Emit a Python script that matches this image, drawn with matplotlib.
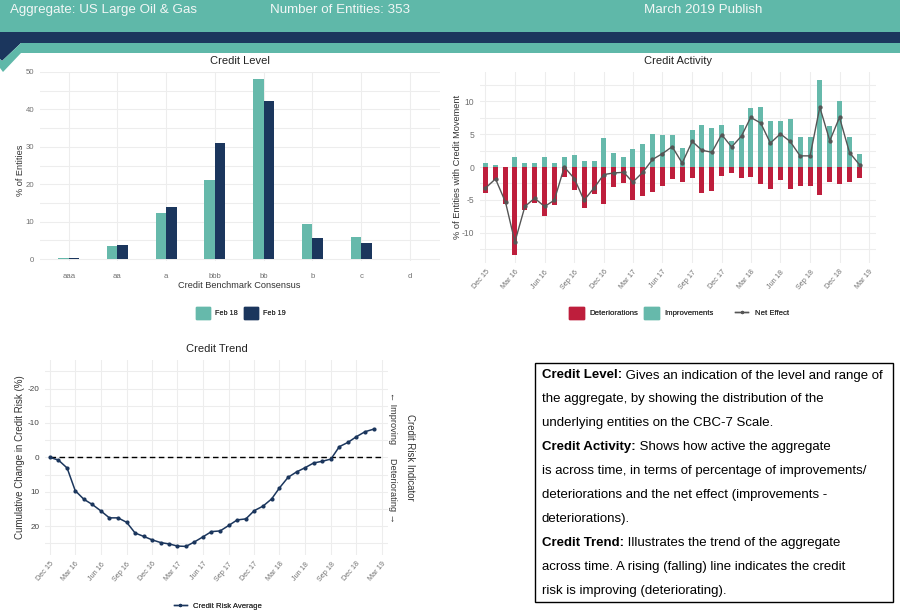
import datetime as dt
import matplotlib
matplotlib.use('Agg')
import matplotlib.pyplot as plt
import matplotlib.dates as mdates
from matplotlib.patches import Polygon, Rectangle, Patch
from matplotlib.lines import Line2D

plt.rcParams['font.family'] = ['Liberation Sans', 'DejaVu Sans']
plt.rcParams['axes.unicode_minus'] = False

TEAL = '#66B9AB'
NAVY = '#1B365D'
RED = '#BE1E3C'
GRID = '#EDEDED'
TICK = '#707070'
W, H = 900, 613

# credit level
categories = ['aaa', 'aa', 'a', 'bbb', 'bb', 'b', 'c', 'd']
feb18 = [0.3, 3.6, 12.4, 21.2, 48.0, 9.5, 6.0, 0.1]
feb19 = [0.3, 3.9, 14.0, 30.9, 42.3, 5.7, 4.2, 0.1]

# credit activity, monthly Dec 15 - Feb 19
improvements = [0.65, 0.3, 0.0, 1.5, 0.65, 0.65, 1.5, 0.65, 1.5, 1.85, 0.95, 0.95, 4.4,
                2.15, 1.5, 2.8, 3.5, 5.05, 4.9, 4.9, 2.9, 5.65, 6.4, 6.0, 6.4, 4.0, 6.4,
                9.0, 9.2, 7.0, 7.0, 7.35, 4.6, 4.6, 13.3, 6.3, 10.1, 4.6, 2.0]
deteriorations = [-4.0, -2.0, -5.65, -13.4, -6.6, -5.5, -7.5, -5.8, -1.5, -3.5, -6.3, -4.1, -5.65,
                  -3.05, -2.45, -5.05, -4.45, -3.8, -2.9, -1.85, -2.3, -1.7, -4.0, -3.7, -1.4, -0.9, -1.7,
                  -1.5, -2.6, -3.4, -2.0, -3.4, -2.9, -2.9, -4.3, -2.3, -2.6, -2.3, -1.7]
net_effect = [-3.2, -1.8, -5.35, -11.4, -6.0, -4.75, -6.0, -5.05, 0.0, -1.75, -5.05, -3.2, -1.15,
              -0.9, -0.8, -2.3, -0.8, 1.15, 2.05, 3.1, 0.6, 3.9, 2.55, 2.25, 4.95, 3.05, 4.75,
              7.55, 6.7, 3.65, 5.05, 3.9, 1.7, 1.7, 9.1, 4.0, 7.55, 2.2, 0.35]

# credit trend, same months
risk_average = [0.0, 0.8, 3.1, 9.7, 12.2, 13.7, 15.6, 17.6, 17.6, 18.9, 22.0, 23.0, 24.0,
                24.8, 25.2, 25.8, 25.9, 24.6, 23.1, 21.6, 21.4, 19.8, 18.2, 17.9, 15.5, 14.2, 12.1,
                8.9, 5.8, 4.25, 3.0, 1.65, 1.15, 0.5, -3.1, -4.35, -6.0, -7.45, -8.2]

months = [dt.date(2015 + (11 + i) // 12, (11 + i) % 12 + 1, 1) for i in range(39)]
quarter_ticks = [dt.date(2015 + (11 + i) // 12, (11 + i) % 12 + 1, 1) for i in range(0, 40, 3)]

note_lines = [
    ('Credit Level:', ' Gives an indication of the level and range of'),
    ('', 'the aggregate, by showing the distribution of the'),
    ('', 'underlying entities on the CBC-7 Scale.'),
    ('Credit Activity:', ' Shows how active the aggregate'),
    ('', 'is across time, in terms of percentage of improvements/'),
    ('', 'deteriorations and the net effect (improvements -'),
    ('', 'deteriorations).'),
    ('Credit Trend:', ' Illustrates the trend of the aggregate'),
    ('', 'across time. A rising (falling) line indicates the credit'),
    ('', 'risk is improving (deteriorating).'),
]


def fx(x):
    return x / W


def fy(y):
    return 1 - y / H


def px_axes(fig, left, top, right, bottom):
    ax = fig.add_axes([fx(left), fy(bottom), (right - left) / W, (bottom - top) / H])
    for s in ax.spines.values():
        s.set_visible(False)
    ax.set_axisbelow(True)
    ax.grid(True, which='major', color=GRID, lw=0.8)
    ax.grid(True, which='minor', axis='y', color=GRID, lw=0.8)
    ax.tick_params(which='both', length=0)
    return ax


def date_axis(ax):
    ax.set_xlim(dt.date(2015, 11, 14), dt.date(2019, 3, 24))
    ax.set_xticks(quarter_ticks)
    ax.xaxis.set_major_formatter(mdates.DateFormatter('%b %y'))
    for lab in ax.get_xticklabels():
        lab.set_rotation(50)
        lab.set_ha('right')
        lab.set_rotation_mode('anchor')
        lab.set_fontsize(5.2)
        lab.set_color(TICK)


def bar_legend(handles, x, y, size=5.2):
    fig.add_artist(fig.legend(handles=handles, loc='center', bbox_to_anchor=(fx(x), fy(y)), ncol=len(handles),
                              frameon=False, fontsize=size, handlelength=14.5 / (size * 100 / 72),
                              handleheight=14.5 / (size * 100 / 72), handletextpad=0.7, columnspacing=0.8,
                              labelcolor='#333333'))


def line_legend(handle, x, y):
    fig.add_artist(fig.legend(handles=[handle], loc='center', bbox_to_anchor=(fx(x), fy(y)), frameon=False,
                              fontsize=5.6, handlelength=1.7, handletextpad=0.8, labelcolor='#333333'))


fig = plt.figure(figsize=(W / 100, H / 100), dpi=100)

# header bands
fig.patches.append(Rectangle((0, fy(32)), 1, 32 / H, transform=fig.transFigure, fc='#5FB8A9', ec='none'))
navy_band = [(0, 32), (900, 32), (900, 43), (21, 43), (2, 61), (0, 59)]
teal_band = [(900, 43), (21, 43), (2, 61), (0, 59), (0, 68), (3, 72), (21, 53), (900, 53)]
fig.patches.append(Polygon([(fx(a), fy(b)) for a, b in navy_band], transform=fig.transFigure, fc=NAVY, ec='none'))
fig.patches.append(Polygon([(fx(a), fy(b)) for a, b in teal_band], transform=fig.transFigure, fc='#5FB8A9', ec='none'))
for txt, xpos in [('Aggregate: US Large Oil & Gas', 10), ('Number of Entities: 353', 270), ('March 2019 Publish', 644)]:
    fig.text(fx(xpos), fy(13), txt, color='#F2F7F6', fontsize=9.6, va='baseline', ha='left')

# credit level
ax1 = px_axes(fig, 40, 72, 440, 261)
xs = range(len(categories))
ax1.bar([i - 0.108 for i in xs], feb18, width=0.215, color=TEAL)
ax1.bar([i + 0.108 for i in xs], feb19, width=0.215, color=NAVY)
ax1.set_xlim(-0.59, 7.62)
ax1.set_ylim(-0.5, 50)
ax1.set_xticks(list(xs))
ax1.set_xticklabels(categories)
ax1.set_yticks([0, 10, 20, 30, 40, 50])
ax1.set_yticks([5, 15, 25, 35, 45], minor=True)
ax1.tick_params(axis='both', labelsize=5.6, labelcolor=TICK, pad=4)
ax1.tick_params(axis='x', pad=9)
ax1.set_title('Credit Level', fontsize=8, color='#222222', pad=6)
ax1.set_xlabel('Credit Benchmark Consensus', fontsize=6.6, color='#333333')
ax1.set_ylabel('% of Entities', fontsize=6.6, color='#333333')
ax1.xaxis.set_label_coords(fx(239), fy(281.5), transform=fig.transFigure)
ax1.yaxis.set_label_coords(fx(25), fy(170), transform=fig.transFigure)
bar_legend([Patch(color=TEAL, label='Feb 18'), Patch(color=NAVY, label='Feb 19')], 241, 313)

# credit activity
ax2 = px_axes(fig, 480, 72, 876, 263)
ax2.bar(months, deteriorations, width=15.5, color=RED)
ax2.bar(months, improvements, width=15.5, color=TEAL)
ax2.plot(months, net_effect, color='#555555', lw=1.0, marker='o', ms=3.1, mew=0)
date_axis(ax2)
ax2.set_ylim(-14.6, 14.46)
ax2.set_yticks([-10, -5, 0, 5, 10])
ax2.set_yticks([-12.5, -7.5, -2.5, 2.5, 7.5, 12.5], minor=True)
ax2.tick_params(axis='y', labelsize=6.2, labelcolor=TICK, pad=4)
ax2.tick_params(axis='x', pad=4)
ax2.set_title('Credit Activity', fontsize=8, color='#222222', pad=6)
ax2.set_ylabel('% of Entities with Credit Movement', fontsize=6.7, color='#333333')
ax2.yaxis.set_label_coords(fx(462), fy(167), transform=fig.transFigure)
bar_legend([Patch(color=RED, label='Deteriorations'), Patch(color=TEAL, label='Improvements')], 641.5, 313, size=5.6)
line_legend(Line2D([], [], color='#555555', lw=1.0, marker='o', ms=2.4, mew=0, label='Net Effect'), 762, 313)

# credit trend
ax3 = px_axes(fig, 45, 360, 388, 555)
ax3.plot(months, risk_average, color=NAVY, lw=1.1, marker='o', ms=3.0, mew=0, zorder=3)
ax3.plot([quarter_ticks[0], quarter_ticks[-1]], [0, 0], color='black', lw=1.0, ls=(0, (4, 2.5)), zorder=2)
date_axis(ax3)
ax3.set_ylim(28.4, -28.3)
ax3.set_yticks([-20, -10, 0, 10, 20])
ax3.set_yticks([-25, -15, -5, 5, 15, 25], minor=True)
ax3.tick_params(axis='y', labelsize=5.9, labelcolor='#444444', pad=4)
ax3.tick_params(axis='x', pad=4)
ax3.set_title('Credit Trend', fontsize=8, color='#222222', pad=6)
ax3.set_ylabel('Cumulative Change in Credit Risk (%)', fontsize=7.0, color='#333333')
ax3.yaxis.set_label_coords(fx(25), fy(457), transform=fig.transFigure)
fig.text(fx(393), fy(418), '\u2190 Improving', rotation=-90, fontsize=6.6, color='#333333', ha='center', va='center')
fig.text(fx(393), fy(490), 'Deteriorating \u2192', rotation=-90, fontsize=6.6, color='#333333', ha='center', va='center')
fig.text(fx(410), fy(457), 'Credit Risk Indicator', rotation=-90, fontsize=6.9, color='#333333', ha='center', va='center')
line_legend(Line2D([], [], color=NAVY, lw=1.0, marker='o', ms=2.4, mew=0, label='Credit Risk Average'), 218, 606)

# notes box
fig.patches.append(Rectangle((fx(535), fy(602)), 358 / W, 239 / H, transform=fig.transFigure,
                             fc='white', ec='black', lw=1.0))
fig.canvas.draw()
renderer = fig.canvas.get_renderer()
for i, (head, rest) in enumerate(note_lines):
    ypos = fy(378.5 + i * 23.9)
    xpos = 542
    if head:
        t = fig.text(fx(xpos), ypos, head, fontsize=9.55, fontweight='bold', va='baseline', color='black')
        xpos = t.get_window_extent(renderer).x1
    fig.text(fx(xpos), ypos, rest, fontsize=9.55, va='baseline', color='black')

fig.savefig('out.png', dpi=100)
